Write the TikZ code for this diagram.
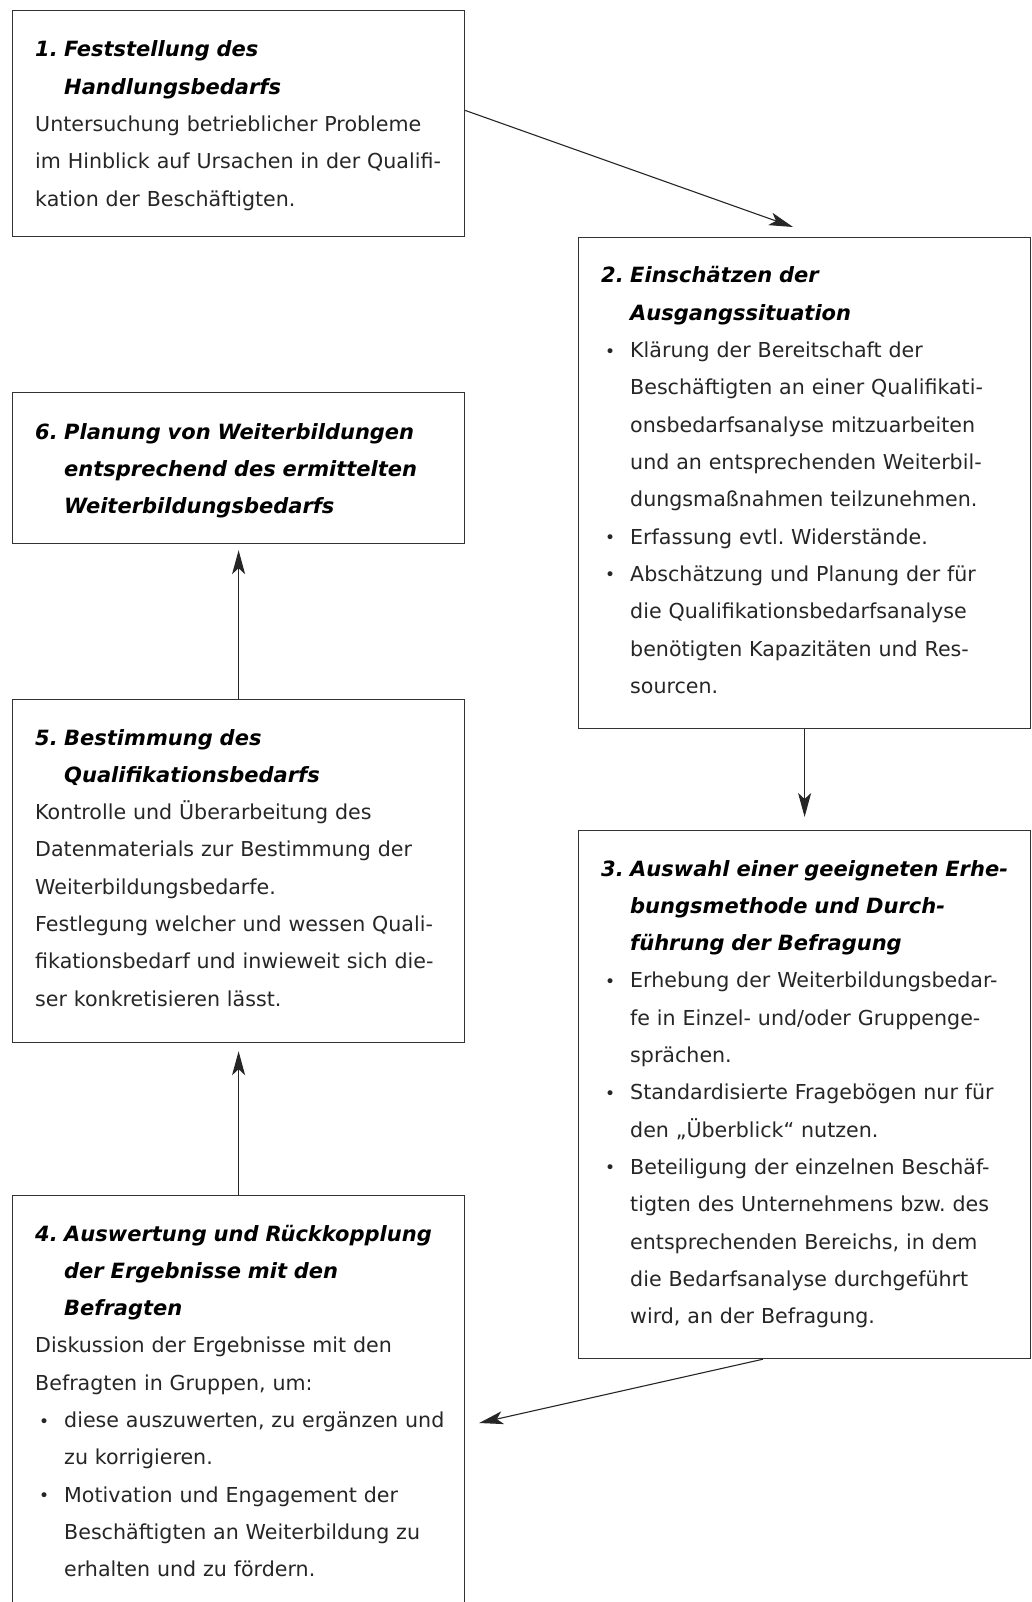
\documentclass[tikz,border=0pt]{standalone}
\usepackage{fontspec}
\setmainfont{DejaVu Sans}
\usetikzlibrary{arrows.meta,calc}
\setlength{\parindent}{0pt}
\frenchspacing
\newcommand{\hdttl}[1]{{\fontsize{21}{37.3}\selectfont\bfseries\itshape\color{black}#1}}
\newcommand{\hdnum}[1]{\makebox[29pt][l]{#1}}
\newcommand{\hdind}{\hspace*{29pt}}
\newcommand{\hdbul}{\makebox[29pt][l]{\hspace*{4pt}\raisebox{0.5pt}{\fontsize{17}{17}\selectfont •}}}
\begin{document}
\begin{tikzpicture}[x=1pt,y=-1pt,
  box/.style={draw=black!80, line width=1.2pt, rectangle, inner sep=0pt, anchor=north west},
  txt/.style={anchor=base west, inner sep=0pt, align=left, text width=460pt, text=black!85,
    font=\fontsize{20.6}{37.3}\selectfont},
  arr/.style={draw=black!85, line width=1.1pt, -{Stealth[length=24pt,width=13pt,inset=6pt]}}]
\useasboundingbox (0,0) rectangle (1031,1602);
\fill[white] (0,0) rectangle (1031,1602);

% boxes
\node[box, minimum width=452pt, minimum height=226pt] (b1) at (12,10) {};
\node[box, minimum width=452pt, minimum height=491pt] (b2) at (578,237) {};
\node[box, minimum width=452pt, minimum height=151pt] (b6) at (12,392) {};
\node[box, minimum width=452pt, minimum height=343pt] (b5) at (12,699) {};
\node[box, minimum width=452pt, minimum height=528pt] (b3) at (578,830) {};
\node[box, minimum width=452pt, minimum height=425pt] (b4) at (12,1195) {};

% texts
\node[txt] (t1) at (35,57) {\hdttl{\hdnum{1.}Feststellung des\\\hdind Handlungsbedarfs}\\
Untersuchung betrieblicher Probleme\\
im Hinblick auf Ursachen in der Qualifi-\\
kation der Beschäftigten.};

\node[txt] (t2) at (601,283) {\hdttl{\hdnum{2.}Einschätzen der\\\hdind Ausgangssituation}\\
\hdbul Klärung der Bereitschaft der\\
\hdind Beschäftigten an einer Qualifikati-\\
\hdind onsbedarfsanalyse mitzuarbeiten\\
\hdind und an entsprechenden Weiterbil-\\
\hdind dungsmaßnahmen teilzunehmen.\\
\hdbul Erfassung evtl. Widerstände.\\
\hdbul Abschätzung und Planung der für\\
\hdind die Qualifikationsbedarfsanalyse\\
\hdind benötigten Kapazitäten und Res-\\
\hdind sourcen.};

\node[txt] (t6) at (35,439) {\hdttl{\hdnum{6.}Planung von Weiterbildungen\\
\hdind entsprechend des ermittelten\\\hdind Weiterbildungsbedarfs}};

\node[txt] (t5) at (35,745) {\hdttl{\hdnum{5.}Bestimmung des\\\hdind Qualifikationsbedarfs}\\
Kontrolle und Überarbeitung des\\
Datenmaterials zur Bestimmung der\\
Weiterbildungsbedarfe.\\
Festlegung welcher und wessen Quali-\\
fikationsbedarf und inwieweit sich die-\\
ser konkretisieren lässt.};

\node[txt] (t3) at (601,876) {\hdttl{\hdnum{3.}Auswahl einer geeigneten Erhe-\\
\hdind bungsmethode und Durch-\\\hdind führung der Befragung}\\
\hdbul Erhebung der Weiterbildungsbedar-\\
\hdind fe in Einzel- und/oder Gruppenge-\\
\hdind sprächen.\\
\hdbul Standardisierte Fragebögen nur für\\
\hdind den „Überblick“ nutzen.\\
\hdbul Beteiligung der einzelnen Beschäf-\\
\hdind tigten des Unternehmens bzw. des\\
\hdind entsprechenden Bereichs, in dem\\
\hdind die Bedarfsanalyse durchgeführt\\
\hdind wird, an der Befragung.};

\node[txt] (t4) at (35,1241) {\hdttl{\hdnum{4.}Auswertung und Rückkopplung\\
\hdind der Ergebnisse mit den\\\hdind Befragten}\\
Diskussion der Ergebnisse mit den\\
Befragten in Gruppen, um:\\
\hdbul diese auszuwerten, zu ergänzen und\\
\hdind zu korrigieren.\\
\hdbul Motivation und Engagement der\\
\hdind Beschäftigten an Weiterbildung zu\\
\hdind erhalten und zu fördern.};

% connectors
\coordinate (e12) at (793,227);
\coordinate (e23) at ($(b3.north)+(0,-13)$);
\coordinate (e34) at ($(b4.north east)+(14,228)$);
\coordinate (e45) at ($(b5.south)+(0,8)$);
\coordinate (e56) at ($(b6.south)+(0,6)$);
\draw[arr] ($(b1.north east)!0.442!(b1.south east)$) -- (e12);
\draw[arr] (b2.south) -- (e23);
\draw[arr] ($(b3.south west)!0.408!(b3.south east)$) -- (e34);
\draw[arr] (b4.north) -- (e45);
\draw[arr] (b5.north) -- (e56);
\end{tikzpicture}
\end{document}
